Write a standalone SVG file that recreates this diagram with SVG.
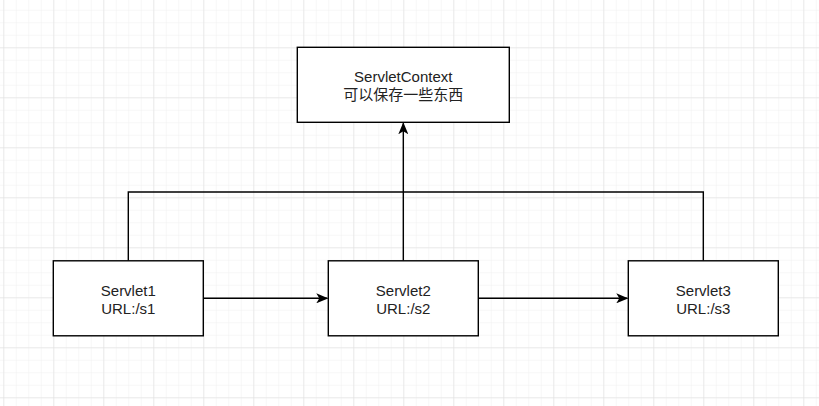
<svg xmlns="http://www.w3.org/2000/svg" width="819" height="406" viewBox="0 0 819 406">
<style>
.box{fill:#fff;stroke:#000;stroke-width:1.4}
.t{font-family:"Liberation Sans","Noto Sans CJK SC",Arial,sans-serif;font-size:15px;fill:#222;text-anchor:middle}
.e{fill:none;stroke:#000;stroke-width:1.4}
</style>
<defs>
<pattern id="minor" x="3.3" y="47.3" width="12.5" height="12.5" patternUnits="userSpaceOnUse">
<path d="M0 0H12.5M0 0V12.5" fill="none" stroke="#f0f0f0" stroke-width="1"/>
</pattern>
<pattern id="major" x="3.3" y="47.3" width="50" height="50" patternUnits="userSpaceOnUse">
<path d="M0 0H50M0 0V50" fill="none" stroke="#dedede" stroke-width="1"/>
</pattern>
<marker id="arr" viewBox="0 0 12 10" refX="11" refY="5" markerWidth="12" markerHeight="10" markerUnits="userSpaceOnUse" orient="auto">
<path d="M0 0L12 5L0 10L3 5Z" fill="#000"/>
</marker>
</defs>
<rect width="819" height="406" fill="#fff"/>
<rect width="819" height="406" fill="url(#minor)"/>
<rect width="819" height="406" fill="url(#major)"/>
<g id="connectors">
<path class="e" d="M128.3 260.8V192H403.3V123.3" marker-end="url(#arr)"/>
<path class="e" d="M703.3 260.8V192H403.3"/>
<path class="e" d="M403.3 260.8V192"/>
<path class="e" d="M203.3 298.3H327.3" marker-end="url(#arr)"/>
<path class="e" d="M478.3 298.3H627.3" marker-end="url(#arr)"/>
</g>
<g id="context">
<rect class="box" x="297.3" y="47.3" width="212" height="75"/>
<text class="t" x="403.3" y="82">ServletContext</text>
<text class="t" x="403.3" y="100">可以保存一些东西</text>
</g>
<g id="servlet1">
<rect class="box" x="53.3" y="260.8" width="150" height="75"/>
<text class="t" x="128.3" y="296">Servlet1</text>
<text class="t" x="128.3" y="314">URL:/s1</text>
</g>
<g id="servlet2">
<rect class="box" x="328.3" y="260.8" width="150" height="75"/>
<text class="t" x="403.3" y="296">Servlet2</text>
<text class="t" x="403.3" y="314">URL:/s2</text>
</g>
<g id="servlet3">
<rect class="box" x="628.3" y="260.8" width="150" height="75"/>
<text class="t" x="703.3" y="296">Servlet3</text>
<text class="t" x="703.3" y="314">URL:/s3</text>
</g>
</svg>
